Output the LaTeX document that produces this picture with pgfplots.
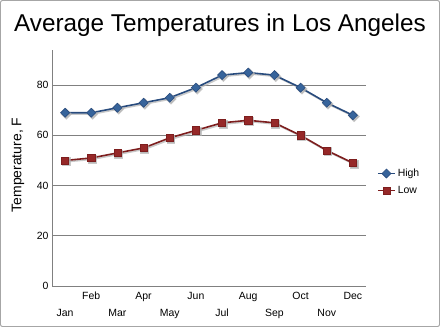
\documentclass[border=0pt]{standalone}
\usepackage{pgfplots}
\pgfplotsset{compat=1.18}
\usepackage{fontspec}
\setmainfont{Liberation Sans}
\definecolor{hiline}{RGB}{40,75,125}
\definecolor{hifill}{RGB}{55,100,155}
\definecolor{loline}{RGB}{125,30,30}
\definecolor{lofill}{RGB}{150,40,40}
\definecolor{gridc}{RGB}{128,128,128}
\begin{document}
\begin{tikzpicture}
\useasboundingbox (0,0) rectangle (440bp,327bp);
\draw[black!35, line width=1bp, rounded corners=2bp] (0.5bp,0.5bp) rectangle (439.5bp,326.5bp);
\node[font=\fontsize{24.4}{28}\selectfont] at (220bp,302bp) {Average Temperatures in Los Angeles};
\node[font=\fontsize{14}{16}\selectfont, rotate=90] at (18bp,162bp) {Temperature, F};
\begin{axis}[
  at={(52bp,41bp)}, anchor=south west,
  scale only axis, width=314bp, height=236bp,
  xmin=0.5, xmax=12.5, ymin=0, ymax=94,
  axis x line*=bottom, axis y line*=left,
  axis line style={gridc, line width=0.8bp},
  x axis line style={-}, y axis line style={-},
  ytick={0,20,40,60,80},
  ymajorgrids, grid style={gridc, line width=0.8bp},
  major tick length=0pt,
  xtick={2,4,6,8,10,12},
  xticklabels={Feb,Apr,Jun,Aug,Oct,Dec},
  extra x ticks={1,3,5,7,9,11},
  extra x tick labels={Jan,Mar,May,Jul,Sep,Nov},
  extra x tick style={grid=none, xticklabel style={yshift=-17bp}},
  tick label style={font=\fontsize{10.5}{12}\selectfont},
  /pgf/number format/assume math mode=true,
  xticklabel style={yshift=-2bp, text height=1.6ex, text depth=0.3ex},
  legend style={draw=none, fill=none, at={(1.035,0.505)}, anchor=north west, font=\fontsize{10.5}{12}\selectfont, row sep=4bp, inner sep=0pt},
  legend cell align=left,
  clip=false,
]
\addplot[gray!60, opacity=0.7, line width=1.6bp, mark=square*, mark size=3.2bp, mark options={rotate=45}, xshift=1.3bp, yshift=-1.3bp, forget plot]
  coordinates {(1,69)(2,69)(3,71)(4,73)(5,75)(6,79)(7,84)(8,85)(9,84)(10,79)(11,73)(12,68)};
\addplot[gray!60, opacity=0.7, line width=1.6bp, mark=square*, mark size=3.6bp, xshift=1.3bp, yshift=-1.3bp, forget plot]
  coordinates {(1,50)(2,51)(3,53)(4,55)(5,59)(6,62)(7,65)(8,66)(9,65)(10,60)(11,54)(12,49)};
\addplot[hiline, line width=1.6bp, mark=square*, mark size=3.2bp, mark options={rotate=45, fill=hifill, draw=hiline, line width=0.6bp}]
  coordinates {(1,69)(2,69)(3,71)(4,73)(5,75)(6,79)(7,84)(8,85)(9,84)(10,79)(11,73)(12,68)};
\addlegendentry{High}
\addplot[loline, line width=1.6bp, mark=square*, mark size=3.6bp, mark options={fill=lofill, draw=loline, line width=0.6bp}]
  coordinates {(1,50)(2,51)(3,53)(4,55)(5,59)(6,62)(7,65)(8,66)(9,65)(10,60)(11,54)(12,49)};
\addlegendentry{Low}
\end{axis}
\end{tikzpicture}
\end{document}
